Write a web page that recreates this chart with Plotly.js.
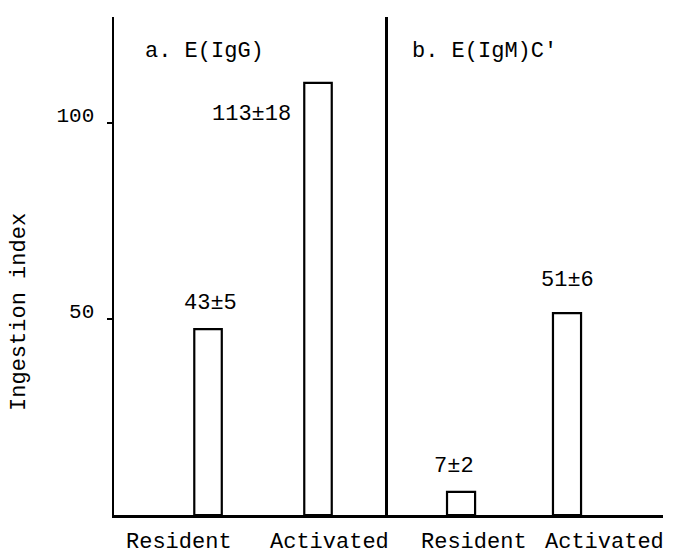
<!DOCTYPE html>
<html>
<head>
<meta charset="utf-8">
<script src="https://cdn.plot.ly/plotly-3.0.1.min.js"></script>
<style>html,body{margin:0;padding:0;background:#fff;}#chart{width:674px;height:556px;}</style>
</head>
<body>
<div id="chart"></div>
<script>
// ---- data ----
const categories = ["Resident", "Activated"];
const panelTitles = ["a. E(IgG)", "b. E(IgM)C'"];
const barHeightsA = [47.4, 110.2];   // drawn bar heights, panel a
const barHeightsB = [5.9, 51.5];     // drawn bar heights, panel b
const meansA = [43, 113];
const sdsA = [5, 18];
const meansB = [7, 51];
const sdsB = [2, 6];
const yTickVals = [50, 100];
const yTitle = "Ingestion index";

// ---- styling ----
const FONT = "'Liberation Mono', 'Courier New', monospace";
const fs = 22;
const barStyle = {color: "white", line: {color: "black", width: 2.2}};

const traces = [
  {type: "bar", x: categories, y: barHeightsA, xaxis: "x", yaxis: "y",
   marker: barStyle, width: 0.25, hoverinfo: "skip"},
  {type: "bar", x: categories, y: barHeightsB, xaxis: "x2", yaxis: "y2",
   marker: barStyle, width: 0.265, hoverinfo: "skip"}
];

const lbl = (m, s) => m + "±" + s;
const annotations = [
  // panel titles
  {text: panelTitles[0], xref: "paper", yref: "paper", x: 0.053, y: 0.93, xanchor: "left", yanchor: "middle", showarrow: false},
  {text: panelTitles[1], xref: "paper", yref: "paper", x: 0.539, y: 0.93, xanchor: "left", yanchor: "middle", showarrow: false},
  // value labels
  {text: lbl(meansA[0], sdsA[0]), xref: "x", yref: "y", x: categories[0], y: barHeightsA[0], yshift: 26, xshift: 2, showarrow: false, xanchor: "center", yanchor: "middle"},
  {text: lbl(meansA[1], sdsA[1]), xref: "x", yref: "y", x: categories[1], y: barHeightsA[1], yshift: -32, xshift: -25, xanchor: "right", showarrow: false, yanchor: "middle"},
  {text: lbl(meansB[0], sdsB[0]), xref: "x2", yref: "y2", x: categories[0], y: barHeightsB[0], yshift: 25, xshift: -7, showarrow: false, xanchor: "center", yanchor: "middle"},
  {text: lbl(meansB[1], sdsB[1]), xref: "x2", yref: "y2", x: categories[1], y: barHeightsB[1], yshift: 33, showarrow: false, xanchor: "center", yanchor: "middle"},
  // x category labels
  {text: categories[0], xref: "paper", yref: "paper", x: 0.118, y: -0.056, showarrow: false, xanchor: "center", yanchor: "middle"},
  {text: categories[1], xref: "paper", yref: "paper", x: 0.393, y: -0.056, showarrow: false, xanchor: "center", yanchor: "middle"},
  {text: categories[0], xref: "paper", yref: "paper", x: 0.656, y: -0.056, showarrow: false, xanchor: "center", yanchor: "middle"},
  {text: categories[1], xref: "paper", yref: "paper", x: 0.894, y: -0.056, showarrow: false, xanchor: "center", yanchor: "middle"},
  // y title
  {text: yTitle, xref: "paper", yref: "paper", x: -0.171, y: 0.408, textangle: -90, showarrow: false, xanchor: "center", yanchor: "middle"}
];

const yCommon = {range: [0, 127], showgrid: false, zeroline: false, showline: true,
  linecolor: "black", linewidth: 2.5, fixedrange: true};

const layout = {
  width: 674, height: 556,
  margin: {l: 114, r: 11, t: 17, b: 41},
  paper_bgcolor: "white", plot_bgcolor: "white",
  font: {family: FONT, size: fs, color: "black"},
  showlegend: false,
  bargap: 0,
  xaxis: {domain: [0, 0.499], type: "category", range: [-0.855, 1.636], showticklabels: false,
    ticks: "", showgrid: false, zeroline: false, showline: true, linecolor: "black", linewidth: 2.5, anchor: "y"},
  xaxis2: {domain: [0.499, 1], type: "category", range: [-0.69, 1.906], showticklabels: false,
    ticks: "", showgrid: false, zeroline: false, showline: true, linecolor: "black", linewidth: 2.5, anchor: "y2"},
  yaxis: Object.assign({}, yCommon, {anchor: "x", tickvals: yTickVals, ticktext: yTickVals.map(String),
    ticks: "outside", ticklen: 5, tickwidth: 2, tickcolor: "black", ticklabelstandoff: 8,
    ticklabelshift: -8, tickfont: {family: FONT, size: 21, color: "black"}}),
  yaxis2: Object.assign({}, yCommon, {anchor: "x2", showticklabels: false, ticks: ""}),
  annotations: annotations
};

Plotly.newPlot("chart", traces, layout, {displayModeBar: false, staticPlot: true});
</script>
</body>
</html>
